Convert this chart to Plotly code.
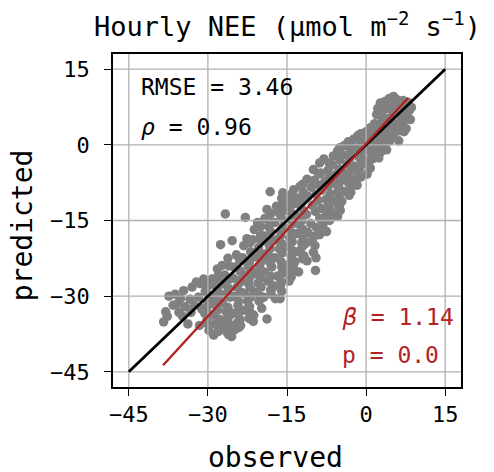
import plotly.graph_objects as go

# ---------------- data ----------------
obs = [
    -38.4, -38.0, -37.4, -37.7, -36.6,
    -35.8, -36.2, -35.2, -34.6, -34.3, -34.8, -35.5,
    -33.4, -33.0, -33.8, -33.2, -32.6, -32.2,
    -31.5, -30.8, -31.8, -30.5, -31.2, -30.2, -31.6, -30.0, -29.8, -30.6,
    -29.2, -28.5, -29.0, -28.3, -28.9, -28.6, -28.9, -28.0, -28.2, -29.4, -27.9,
    -27.6, -26.7, -27.3, -26.8, -27.0, -26.5, -27.2, -26.6, -27.0, -26.4, -26.8, -26.2, -27.5,
    -25.4, -25.7, -25.0, -24.6, -25.2, -24.5, -25.0, -24.3, -25.1, -24.4, -24.8, -24.0, -25.5,
    -22.9, -23.8, -23.2, -22.6, -23.4, -22.4, -23.0, -22.3, -23.2, -22.5, -23.0, -22.2, -23.6,
    -21.3, -21.2, -20.6, -21.5, -20.4, -21.0, -20.2, -21.2, -20.5, -21.0, -20.3, -21.4, -20.0,
    -18.8, -18.8, -19.4, -19.2, -18.5, -19.5, -18.4, -19.0, -18.2, -19.3, -18.6, -18.1, -19.6, -18.2,
    -15.8, -17.2, -16.3, -17.0, -16.4, -17.4, -16.2, -17.0, -16.5, -17.3, -16.0, -16.8, -16.2, -17.6, -15.8,
    -15.3, -14.6, -15.0, -14.3, -15.2, -14.5, -15.1, -14.2, -14.8, -15.4, -14.6, -14.0,
    -13.7, -12.5, -13.2, -12.4, -13.4, -12.6, -13.1, -12.2, -12.9, -12.0, -13.5, -12.0, -12.8,
    -10.0, -9.6, -9.5, -10.0, -11.2, -10.4, -11.0, -10.2, -11.3, -10.5, -11.0, -10.2, -11.5, -9.8, -9.5, -9.6, -9.4, -9.9, -9.7, -11.2,
    -8.8, -8.0, -8.6, -7.8, -8.4, -7.6, -8.5, -7.7, -8.2, -7.5, -8.8, -7.2, -7.0,
    -6.2, -5.4, -6.4, -5.6, -6.3, -5.5, -6.0, -5.2, -6.6, -5.0, -4.9, -5.0, -5.4,
    -4.2, -3.4, -4.4, -3.6, -4.2, -3.4, -4.0, -3.2, -4.6, -3.0, -3.0, -2.8,
    -2.4, -1.6, -2.2, -1.4, -2.3, -1.5, -2.0, -1.2, -1.0, -0.8, -1.7,
    0.0, 0.8, -0.2, 0.6, -0.4, 0.5, 0.2, 1.0, 1.2, 0.4, 0.1,
    1.6, 2.7, 2.0, 1.8, 2.4, 2.0, 2.8, 2.6, 2.2, 1.4, 3.0, 3.2, 2.4,
    3.6, 4.4, 3.8, 4.2, 3.6, 4.6, 4.0, 4.8, 5.0, 4.5, 3.9,
    5.2, 5.8, 6.2, 5.6, 6.0, 5.4, 6.6, 6.8, 6.4, 7.0, 6.2,
    7.4, 8.0, 8.4, 7.8, 7.6, 8.2, 8.6,
    # denser core between the columns above
    -30.0, -29.9, -30.1, -29.8, -30.2,
    -28.0, -27.8, -28.1, -27.9, -28.2, -27.7, -28.0,
    -26.0, -25.9, -26.1, -25.8, -26.2, -26.0, -25.9, -26.1,
    -24.0, -23.9, -24.1, -23.8, -24.2, -24.0, -23.9, -24.1,
    -22.0, -21.9, -22.1, -21.8, -22.2, -22.0, -21.9, -22.1, -21.8,
    -20.0, -19.9, -20.1, -19.8, -20.2, -20.0, -19.9, -20.1, -19.8,
    -18.0, -17.9, -18.1, -17.8, -18.2, -18.0, -17.9, -18.1, -17.8, -18.0,
    -16.0, -15.9, -16.1, -15.8, -16.2, -16.0, -15.9, -16.1, -15.8, -16.2, -16.0,
    -14.0, -13.9, -14.1, -13.8, -14.2, -14.0, -13.9, -14.1, -13.8, -14.2,
    -12.0, -11.9, -12.1, -11.8, -12.2, -12.0, -11.9, -12.1, -11.8,
    -9.0, -8.9, -9.1, -8.8, -9.0,
    -7.0, -6.9, -7.1, -6.8, -7.2, -7.0, -6.9,
    -5.0, -4.9, -5.1, -4.8, -5.2, -5.0, -4.9,
    -3.0, -2.9, -3.1, -2.8, -3.2, -3.0, -2.9,
    -1.0, -0.9, -1.1, -0.8, -1.2, -1.0,
    1.0, 1.1, 0.9, 1.2, 0.8,
    3.0, 3.1, 2.9, 3.2, 2.8,
    5.0, 5.1, 4.9, 5.2,
    7.0, 7.1, 6.9, 7.2,
]
pred = [
    -35.1, -33.1, -30.0, -34.0, -31.8,
    -31.5, -29.6, -30.5, -28.9, -32.1, -34.0, -33.2,
    -30.6, -28.2, -35.5, -33.2, -31.8, -27.2,
    -27.5, -26.6, -30.2, -29.0, -32.5, -34.8, -35.8, -31.2, -36.8, -33.4,
    -26.6, -28.0, -30.0, -32.2, -33.8, -35.5, -37.7, -37.0, -24.6, -31.4, -29.6,
    -19.8, -13.7, -23.9, -25.8, -27.6, -29.5, -31.3, -33.0, -34.8, -37.1, -36.0, -22.5, -36.3,
    -19.0, -37.4, -24.2, -21.8, -26.4, -28.2, -30.0, -31.8, -33.4, -35.2, -36.6, -26.8, -38.0,
    -14.4, -35.8, -20.0, -18.6, -22.4, -24.0, -25.8, -27.5, -29.4, -31.0, -32.8, -34.4, -27.0,
    -33.8, -16.8, -15.4, -18.8, -20.4, -22.2, -24.0, -25.6, -27.4, -29.2, -31.0, -35.0, -18.0,
    -12.8, -34.5, -30.2, -14.6, -16.2, -18.0, -19.8, -21.6, -23.4, -25.2, -27.0, -28.8, -22.6, -9.3,
    -9.5, -30.5, -30.5, -12.2, -13.6, -15.4, -17.0, -18.8, -20.6, -22.4, -24.2, -26.0, -27.8, -28.2, -11.2,
    -11.4, -10.4, -13.0, -14.8, -16.6, -18.4, -20.2, -22.0, -23.8, -25.4, -27.0, -25.0,
    -8.9, -8.2, -10.6, -12.2, -14.0, -15.8, -17.6, -19.4, -21.2, -22.6, -23.2, -10.0, -25.2,
    -21.3, -24.9, -22.4, -4.9, -6.8, -8.4, -10.2, -12.0, -13.8, -15.6, -17.4, -19.0, -19.6, -7.0, -9.8, -13.2, -16.4, -18.2, -20.0, -23.0,
    -3.6, -2.8, -5.6, -7.2, -9.0, -10.8, -12.6, -14.2, -16.0, -17.2, -17.8, -5.0, -12.4,
    -2.2, -1.2, -4.0, -5.8, -7.6, -9.4, -11.2, -12.6, -13.6, -3.0, -7.2, -10.6, -14.2,
    -0.2, 0.6, -2.0, -3.8, -5.6, -7.4, -9.2, -10.0, -11.2, -1.5, -5.2, -8.4,
    1.1, 1.8, -0.6, -2.4, -4.2, -5.8, -7.2, -0.5, -3.8, 1.5, -8.0,
    2.6, 3.4, 0.6, -1.2, -2.8, -4.2, -5.8, 1.8, -2.0, -1.0, -3.6,
    4.2, 8.3, 6.0, 2.4, 0.6, -0.8, 1.8, 4.0, 7.2, 1.0, 6.0, -0.4, -2.6,
    8.6, 9.2, 3.2, 5.2, 1.4, 2.6, 7.2, 7.0, 4.4, 0.8, -1.0,
    9.6, 9.0, 7.8, 6.2, 4.2, 2.4, 5.6, 8.2, 2.8, 4.0, 0.8,
    7.0, 8.4, 5.0, 5.6, 3.2, 6.8, 7.4,
    # denser core between the columns above
    -28.0, -29.8, -32.0, -33.6, -35.4,
    -25.8, -27.3, -29.0, -30.8, -32.8, -34.6, -36.4,
    -24.0, -26.6, -28.4, -30.2, -32.2, -34.0, -35.6, -37.6,
    -22.8, -25.0, -27.4, -29.2, -31.0, -33.0, -34.6, -36.2,
    -19.4, -21.2, -23.2, -25.0, -26.6, -28.4, -30.2, -32.0, -33.4,
    -16.2, -19.2, -21.4, -23.0, -24.8, -26.4, -28.2, -30.0, -32.4,
    -13.6, -15.4, -17.2, -19.0, -20.6, -22.4, -24.2, -26.0, -27.8, -29.6,
    -10.6, -12.6, -14.4, -16.2, -18.0, -19.6, -21.4, -23.2, -25.0, -27.0, -29.0,
    -9.6, -11.8, -13.6, -15.6, -17.4, -19.2, -21.0, -22.8, -24.4, -26.2,
    -7.8, -9.4, -11.2, -13.2, -15.0, -16.8, -18.6, -20.2, -22.0,
    -5.8, -8.0, -11.0, -14.6, -17.0,
    -3.6, -6.2, -8.2, -9.8, -11.4, -13.2, -15.0,
    -0.6, -2.0, -4.8, -6.4, -8.4, -11.8, -13.0,
    0.4, -0.4, -2.6, -4.4, -6.4, -7.8, -9.4,
    2.2, 0.4, -1.6, -3.0, -4.6, -6.4,
    3.4, 2.2, -0.4, -2.8, -4.6,
    7.6, 5.0, 3.0, 1.0, -1.4,
    8.4, 6.2, 3.6, 1.8,
    8.8, 6.4, 4.8, 2.6,
]

identity_x = [-45, 15]          # 1:1 reference line
reg_x = [-38.5, 8.0]            # extent of regression line
beta = 1.14
intercept = 0.2
rmse = 3.46
rho = 0.96
p_value = 0.0

ticks = [-45, -30, -15, 0, 15]
axis_range = [-48, 18]

FONT = "DejaVu Sans Mono"
RED = "#b22222"

# ---------------- figure ----------------
fig = go.Figure()

fig.add_trace(go.Scatter(
    x=obs, y=pred, mode="markers",
    marker=dict(color="#808080", size=9.5, line=dict(width=0)),
    showlegend=False, hoverinfo="skip",
))

# grid drawn above the points (matplotlib style), below the lines
gx, gy = [], []
for t in ticks:
    gx += [t, t, None]
    gy += [axis_range[0], axis_range[1], None]
    gx += [axis_range[0], axis_range[1], None]
    gy += [t, t, None]
fig.add_trace(go.Scatter(
    x=gx, y=gy, mode="lines",
    line=dict(color="#b0b0b0", width=1.3),
    showlegend=False, hoverinfo="skip",
))

fig.add_trace(go.Scatter(
    x=identity_x, y=identity_x, mode="lines",
    line=dict(color="black", width=2.8),
    showlegend=False, hoverinfo="skip",
))

fig.add_trace(go.Scatter(
    x=reg_x, y=[beta * v + intercept for v in reg_x], mode="lines",
    line=dict(color=RED, width=2.4),
    showlegend=False, hoverinfo="skip",
))

axis_common = dict(
    range=axis_range,
    tickvals=ticks,
    showgrid=False,
    zeroline=False,
    showline=True, linecolor="black", linewidth=1.5, mirror=True,
    ticks="outside", ticklen=7, tickwidth=1.3, tickcolor="black",
    tickfont=dict(family=FONT, size=22, color="black"),
)

# the page body adds an 8 px offset, so the figure is 8 px smaller
fig.update_layout(
    width=486, height=464,
    margin=dict(l=105, r=33, t=46, b=85),
    paper_bgcolor="white", plot_bgcolor="white",
    xaxis=dict(**axis_common, ticklabelstandoff=0),
    yaxis=dict(**axis_common, ticklabelstandoff=10),
    font=dict(family=FONT, color="black"),
)

annotations = [
    dict(text="Hourly NEE (μmol m<sup>−2</sup> s<sup>−1</sup>)", x=0.5, y=1.09,
         xref="paper", yref="paper", xanchor="center", yanchor="middle",
         showarrow=False, font=dict(family=FONT, size=27, color="black")),
    dict(text="observed", x=0.468, y=-0.213, xref="paper", yref="paper",
         xanchor="center", yanchor="middle", showarrow=False,
         font=dict(family=FONT, size=28, color="black")),
    dict(text="predicted", x=-0.261, y=0.486, xref="paper", yref="paper",
         xanchor="center", yanchor="middle", showarrow=False, textangle=-90,
         font=dict(family=FONT, size=28, color="black")),
    dict(text=f"RMSE = {rmse}", x=0.076, y=0.902, xref="paper", yref="paper",
         xanchor="left", yanchor="middle", showarrow=False,
         font=dict(family=FONT, size=23, color="black")),
    dict(text=f"<i>ρ</i> = {rho}", x=0.076, y=0.782, xref="paper", yref="paper",
         xanchor="left", yanchor="middle", showarrow=False,
         font=dict(family=FONT, size=23, color="black")),
    dict(text=f"<i>β</i> = {beta}", x=0.652, y=0.211, xref="paper", yref="paper",
         xanchor="left", yanchor="middle", showarrow=False,
         font=dict(family=FONT, size=23, color=RED)),
    dict(text=f"p = {p_value}", x=0.652, y=0.096, xref="paper", yref="paper",
         xanchor="left", yanchor="middle", showarrow=False,
         font=dict(family=FONT, size=23, color=RED)),
]
fig.update_layout(annotations=annotations)

fig.write_html("out.html")
